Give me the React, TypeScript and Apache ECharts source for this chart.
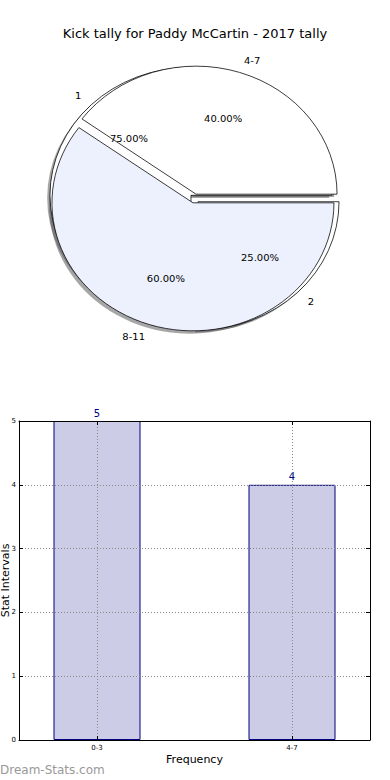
import React, { useEffect, useRef } from "react";
import * as echarts from "echarts";

const TITLE = "Kick tally for Paddy McCartin - 2017 tally";
const pieANames = ["4-7", "8-11"];
const pieAValues = [40, 60];
const pieAColors = ["#ffffff", "#ecf1fd"];
const pieBNames = ["1", "2"];
const pieBValues = [75, 25];
const pieBColors = ["#ffffff", "#ffffff"];

const barCategories = ["0-3", "4-7"];
const barValues = [5, 4];
const yTicks = [0, 1, 2, 3, 4, 5];

const FONT = "DejaVu Sans";
const SCALE_Y = 0.908;
const R = 141;
const CX = 194.5;
const CY = 198.5 / SCALE_Y;
const EXPLODE = 5;

function mkData(names: string[], values: number[], colors: string[] | null, transparent = false) {
  return names.map((n, i) => ({
    name: n,
    value: values[i],
    selected: true,
    itemStyle: transparent
      ? { color: "rgba(0,0,0,0)", borderWidth: 0 }
      : { color: colors ? colors[i] : "#000" },
  }));
}

const basePie = {
  type: "pie",
  startAngle: 0,
  clockwise: false,
  selectedMode: "multiple",
  selectedOffset: EXPLODE,
  avoidLabelOverlap: false,
  silent: true,
  emphasis: { disabled: true },
  labelLine: { show: false },
};

export default function App() {
  const mainRef = useRef<HTMLDivElement>(null);
  const pieRef = useRef<HTMLDivElement>(null);

  useEffect(() => {
    const main = echarts.init(mainRef.current!, undefined, { renderer: "svg" });
    const pie = echarts.init(pieRef.current!, undefined, { renderer: "svg" });

    const shadowStyle = { color: "rgba(77,77,77,0.5)", borderWidth: 0 };
    const shadowCenter = [CX - 2.8, CY + 2.8 / SCALE_Y];

    const pieSeries: any[] = [
      {
        ...basePie,
        z: 1,
        center: shadowCenter,
        radius: R,
        label: { show: false },
        data: mkData(pieBNames, pieBValues, null).map((d) => ({ ...d, itemStyle: shadowStyle })),
      },
      {
        ...basePie,
        z: 1,
        center: shadowCenter,
        radius: R,
        label: { show: false },
        data: mkData(pieANames, pieAValues, null).map((d) => ({ ...d, itemStyle: shadowStyle })),
      },
      {
        ...basePie,
        z: 2,
        center: [CX, CY],
        radius: R,
        label: { show: false },
        itemStyle: { borderColor: "#000", borderWidth: 0.8 },
        data: mkData(pieBNames, pieBValues, pieBColors),
      },
      {
        ...basePie,
        z: 2,
        center: [CX, CY],
        radius: R,
        label: { show: false },
        itemStyle: { borderColor: "#000", borderWidth: 0.8 },
        data: mkData(pieANames, pieAValues, pieAColors),
      },
      // percent labels (placed at 0.6 R)
      ...[
        [pieBNames, pieBValues],
        [pieANames, pieAValues],
      ].map(([n, v]) => ({
        ...basePie,
        z: 3,
        center: [CX, CY],
        radius: R * 1.2,
        label: {
          show: true,
          position: "inside",
          fontFamily: FONT,
          fontSize: 10,
          color: "#000",
          formatter: (p: any) => p.percent.toFixed(2) + "%",
        },
        data: mkData(n as string[], v as number[], null, true),
      })),
      // name labels (placed at 1.1 R)
      ...[
        [pieBNames, pieBValues],
        [pieANames, pieAValues],
      ].map(([n, v]) => ({
        ...basePie,
        z: 3,
        center: [CX, CY],
        radius: R,
        labelLine: { show: false, length: R * 0.1, length2: 0 },
        label: {
          show: true,
          position: "outside",
          distanceToLabelLine: 0,
          fontFamily: FONT,
          fontSize: 10,
          color: "#000",
          formatter: "{b}",
        },
        data: mkData(n as string[], v as number[], null, true),
      })),
    ];

    pie.setOption({ animation: false, series: pieSeries });

    const axisLineStyle = { color: "#000", width: 1 };
    const gridLineStyle = { type: [1, 2], color: "#888", width: 1 };
    const xMin = -0.4;
    const xMax = barCategories.length - 1 + 0.4;
    const xPositions = barCategories.map((_, i) => i);

    main.setOption({
      animation: false,
      title: {
        text: TITLE,
        left: "center",
        top: 22,
        textStyle: { fontFamily: FONT, fontSize: 13, fontWeight: "normal", color: "#000" },
      },
      grid: { left: 19, right: 20, top: 421, bottom: 40, outerBoundsMode: "none", containLabel: false },
      xAxis: [
        {
          type: "value",
          z: 5,
          min: xMin,
          max: xMax,
          position: "bottom",
          name: "Frequency",
          nameLocation: "middle",
          nameGap: 14,
          nameMoveOverlap: false,
          nameTextStyle: { fontFamily: FONT, fontSize: 11, color: "#000" },
          axisLine: { show: true, onZero: false, lineStyle: axisLineStyle },
          axisTick: { show: true, inside: true, length: 4, customValues: xPositions, lineStyle: axisLineStyle },
          axisLabel: {
            show: true,
            customValues: xPositions,
            fontFamily: FONT,
            fontSize: 7,
            color: "#000",
            margin: 4,
            formatter: (v: number) => barCategories[Math.round(v)] ?? "",
          },
          splitLine: { show: true, lineStyle: gridLineStyle },
        },
        {
          type: "value",
          z: 5,
          min: xMin,
          max: xMax,
          position: "top",
          axisLine: { show: true, onZero: false, lineStyle: axisLineStyle },
          axisTick: { show: true, inside: true, length: 4, customValues: xPositions, lineStyle: axisLineStyle },
          axisLabel: { show: false },
          splitLine: { show: false },
        },
      ],
      yAxis: [
        {
          type: "value",
          z: 5,
          min: yTicks[0],
          max: yTicks[yTicks.length - 1],
          interval: 1,
          position: "left",
          name: "Stat Intervals",
          nameLocation: "middle",
          nameRotate: 90,
          nameGap: 8,
          nameMoveOverlap: false,
          nameTextStyle: { fontFamily: FONT, fontSize: 11, color: "#000" },
          axisLine: { show: true, onZero: false, lineStyle: axisLineStyle },
          axisTick: { show: true, inside: true, length: 4, lineStyle: axisLineStyle },
          axisLabel: { fontFamily: FONT, fontSize: 7, color: "#000", margin: 3 },
          splitLine: { show: true, lineStyle: gridLineStyle },
        },
        {
          type: "value",
          z: 5,
          min: yTicks[0],
          max: yTicks[yTicks.length - 1],
          interval: 1,
          position: "right",
          axisLine: { show: true, onZero: false, lineStyle: axisLineStyle },
          axisTick: { show: true, inside: true, length: 4, lineStyle: axisLineStyle },
          axisLabel: { show: false },
          splitLine: { show: false },
        },
      ],
      series: [
        {
          type: "bar",
          xAxisIndex: 0,
          yAxisIndex: 0,
          z: 2,
          barWidth: 87,
          data: barValues.map((v, i) => [i, v]),
          itemStyle: { color: "#ccccE6", borderColor: "#000080", borderWidth: 1 },
          label: {
            show: true,
            position: "top",
            distance: 3,
            fontFamily: FONT,
            fontSize: 10,
            color: "#000080",
            formatter: (p: any) => String(p.value[1]),
          },
          silent: true,
        },
      ],
      graphic: [
        {
          type: "text",
          left: 0,
          top: 764,
          style: {
            text: "Dream-Stats.com",
            fontFamily: FONT,
            fontSize: 12,
            fontWeight: "normal",
            fill: "#999",
          },
        },
      ],
    });

    return () => {
      main.dispose();
      pie.dispose();
    };
  }, []);

  return (
    <div style={{ position: "fixed", left: 0, top: 0, width: 390, height: 780, background: "#fff" }}>
      <div ref={mainRef} style={{ position: "absolute", left: 0, top: 0, width: 390, height: 780 }} />
      <div
        ref={pieRef}
        style={{
          position: "absolute",
          left: 0,
          top: 0,
          width: 390,
          height: 420,
          transform: `scaleY(${SCALE_Y})`,
          transformOrigin: "0 0",
          pointerEvents: "none",
        }}
      />
    </div>
  );
}
